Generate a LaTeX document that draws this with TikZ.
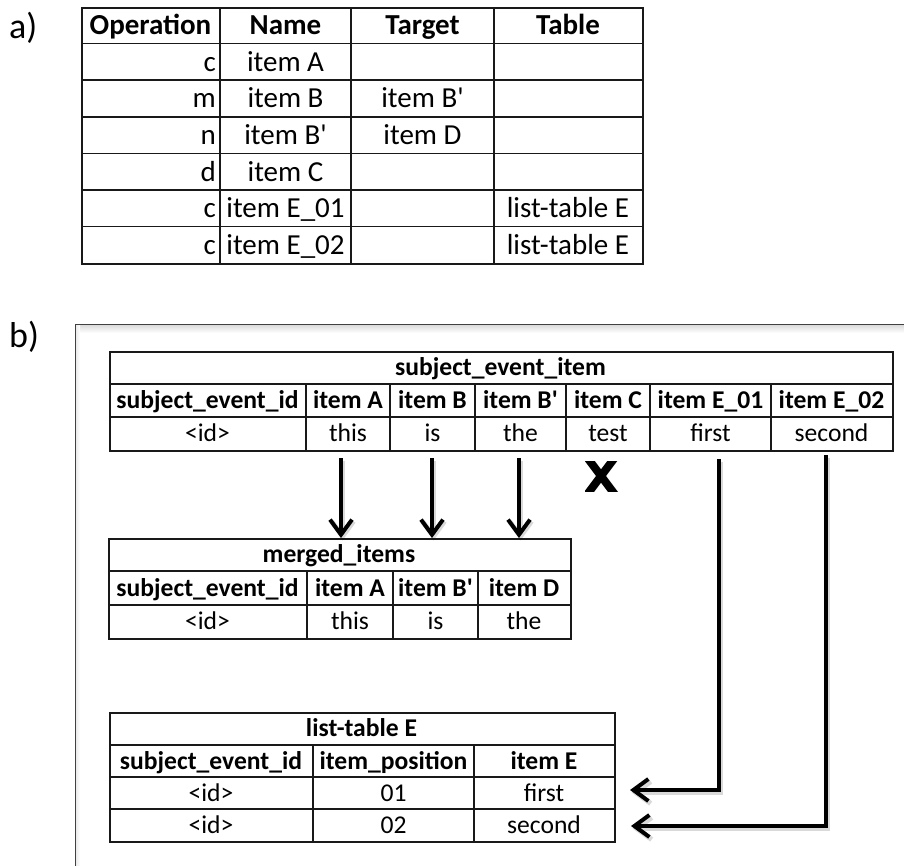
\documentclass[tikz,border=0pt]{standalone}
\usepackage{fontspec}
\newfontfamily\calib{Carlito}
\usetikzlibrary{arrows.meta}
\newcommand\cellt[5][]{\node[txt,#1] (#2) at (#3,#4) {#5};}
\begin{document}
\begin{tikzpicture}[x=1pt,y=-1pt,
  frame/.style={draw=black!90, line width=1.6pt, inner sep=0pt, anchor=north west},
  grid/.style={draw=black!90, line width=1.6pt},
  txt/.style={anchor=base, inner sep=0pt},
  fa/.style={font=\calib\fontsize{29}{31}\selectfont, yshift=-9.5pt},
  fb/.style={font=\calib\fontsize{25.6}{27}\selectfont, yshift=-8.3pt},
  ha/.style={fa, font=\calib\fontsize{29}{31}\selectfont\bfseries},
  hb/.style={fb, font=\calib\fontsize{25.6}{27}\selectfont\bfseries},
  ra/.style={fa, anchor=base east},
  lbl/.style={anchor=base west, inner sep=0pt, font=\calib\fontsize{36}{38}\selectfont},
  arr/.style={line width=4pt, -{Straight Barb[length=15pt,width=22pt]},
    preaction={draw=black, opacity=0.15, line width=5pt,
      transform canvas={shift={(1.5pt,-2.5pt)}}}},
  xmark/.style={line width=8pt, line cap=butt}
]
\useasboundingbox (0,0) rectangle (904,865);
\clip (0,0) rectangle (904,865);

% ---------- part a: operation list ----------
\node[lbl] (lbla) at (9,38) {a)};
\node[frame, minimum width=561pt, minimum height=256pt] (ta) at (81,7) {};
\foreach \yy in {43.6,80.1,116.7,153.3,189.9,226.4}
  \draw[grid] (81,\yy) -- (642,\yy);
\foreach \xx in {220,351,494}
  \draw[grid] (\xx,7) -- (\xx,263);

\cellt[ha]{a-h1}{150.5}{25.3}{Operation}
\cellt[ha]{a-h2}{285.5}{25.3}{Name}
\cellt[ha]{a-h3}{422.5}{25.3}{Target}
\cellt[ha]{a-h4}{568}{25.3}{Table}

\cellt[ra]{a-o1}{216}{61.9}{c}
\cellt[ra]{a-o2}{216}{98.4}{m}
\cellt[ra]{a-o3}{216}{135}{n}
\cellt[ra]{a-o4}{216}{171.6}{d}
\cellt[ra]{a-o5}{216}{208.1}{c}
\cellt[ra]{a-o6}{216}{244.7}{c}

\cellt[fa]{a-n1}{285.5}{61.9}{item A}
\cellt[fa]{a-n2}{285.5}{98.4}{item B}
\cellt[fa]{a-n3}{285.5}{135}{item B\char"27}
\cellt[fa]{a-n4}{285.5}{171.6}{item C}
\cellt[fa]{a-n5}{285.5}{208.1}{item E\_01}
\cellt[fa]{a-n6}{285.5}{244.7}{item E\_02}

\cellt[fa]{a-t2}{422.5}{98.4}{item B\char"27}
\cellt[fa]{a-t3}{422.5}{135}{item D}

\cellt[fa]{a-b5}{568}{208.1}{list-table E}
\cellt[fa]{a-b6}{568}{244.7}{list-table E}

% ---------- part b: resulting tables ----------
\node[lbl] (lblb) at (9,347) {b)};
\node[draw=black!75, line width=1.8pt, inner sep=0pt, anchor=north west,
      minimum width=900pt, minimum height=600pt] (panel) at (75,324) {};
\shade[top color=black!14, bottom color=white] (76,325) rectangle (910,333);
\shade[left color=black!8, right color=white] (76,325) rectangle (80,870);

% subject_event_item
\node[frame, minimum width=783pt, minimum height=99pt] (sei) at (109,351) {};
\foreach \yy in {384,417}
  \draw[grid] (109,\yy) -- (892,\yy);
\foreach \xx in {306,390,475,566,650,771}
  \draw[grid] (\xx,384) -- (\xx,450);
\cellt[hb]{s-t}{500.5}{367.5}{subject\_event\_item}
\cellt[hb]{s-h1}{207.5}{400.5}{subject\_event\_id}
\cellt[hb]{s-h2}{348}{400.5}{item A}
\cellt[hb]{s-h3}{432.5}{400.5}{item B}
\cellt[hb]{s-h4}{520.5}{400.5}{item B\char"27}
\cellt[hb]{s-h5}{608}{400.5}{item C}
\cellt[hb]{s-h6}{710.5}{400.5}{item E\_01}
\cellt[hb]{s-h7}{831.5}{400.5}{item E\_02}
\cellt[fb]{s-v1}{207.5}{433.5}{<id>}
\cellt[fb]{s-v2}{348}{433.5}{this}
\cellt[fb]{s-v3}{432.5}{433.5}{is}
\cellt[fb]{s-v4}{520.5}{433.5}{the}
\cellt[fb]{s-v5}{608}{433.5}{test}
\cellt[fb]{s-v6}{710.5}{433.5}{first}
\cellt[fb]{s-v7}{831.5}{433.5}{second}

% merged_items
\node[frame, minimum width=462pt, minimum height=100pt] (mi) at (108,538) {};
\foreach \yy in {571,605}
  \draw[grid] (108,\yy) -- (570,\yy);
\foreach \xx in {307,393,478}
  \draw[grid] (\xx,571) -- (\xx,638);
\cellt[hb]{m-t}{339}{554.5}{merged\_items}
\cellt[hb]{m-h1}{207.5}{588}{subject\_event\_id}
\cellt[hb]{m-h2}{350}{588}{item A}
\cellt[hb]{m-h3}{435.5}{588}{item B\char"27}
\cellt[hb]{m-h4}{524}{588}{item D}
\cellt[fb]{m-v1}{207.5}{621.5}{<id>}
\cellt[fb]{m-v2}{350}{621.5}{this}
\cellt[fb]{m-v3}{435.5}{621.5}{is}
\cellt[fb]{m-v4}{524}{621.5}{the}

% list-table E
\node[frame, minimum width=505pt, minimum height=129pt] (lt) at (109,712) {};
\foreach \yy in {745,777,809}
  \draw[grid] (109,\yy) -- (614,\yy);
\foreach \xx in {313,474}
  \draw[grid] (\xx,745) -- (\xx,841);
\cellt[hb]{l-t}{361.5}{728.5}{list-table E}
\cellt[hb]{l-h1}{211}{761}{subject\_event\_id}
\cellt[hb]{l-h2}{393.5}{761}{item\_position}
\cellt[hb]{l-h3}{544}{761}{item E}
\cellt[fb]{l-a1}{211}{793}{<id>}
\cellt[fb]{l-a2}{393.5}{793}{01}
\cellt[fb]{l-a3}{544}{793}{first}
\cellt[fb]{l-b1}{211}{825}{<id>}
\cellt[fb]{l-b2}{393.5}{825}{02}
\cellt[fb]{l-b3}{544}{825}{second}

% ---------- connectors ----------
\coordinate (dA) at (341,458);
\coordinate (dB) at (432,458);
\coordinate (dBp) at (519,458);
\draw[arr] (dA) -- (dA |- mi.north);
\draw[arr] (dB) -- (dB |- mi.north);
\draw[arr] (dBp) -- (dBp |- mi.north);

\coordinate (e1) at (719,459);
\coordinate (e2) at (826,455);
\coordinate (t1) at (630,790);
\coordinate (t2) at (631,826);
\draw[arr] (e1) |- (t1);
\draw[arr] (e2) |- (t2);

% dropped column mark
\coordinate (xc) at (601,476);
\begin{scope}
  \clip (585,461) rectangle (618,491);
  \draw[xmark] ([shift={(-15,-20)}]xc) -- ([shift={(15,20)}]xc);
  \draw[xmark] ([shift={(15,-20)}]xc) -- ([shift={(-15,20)}]xc);
\end{scope}
\end{tikzpicture}
\end{document}
